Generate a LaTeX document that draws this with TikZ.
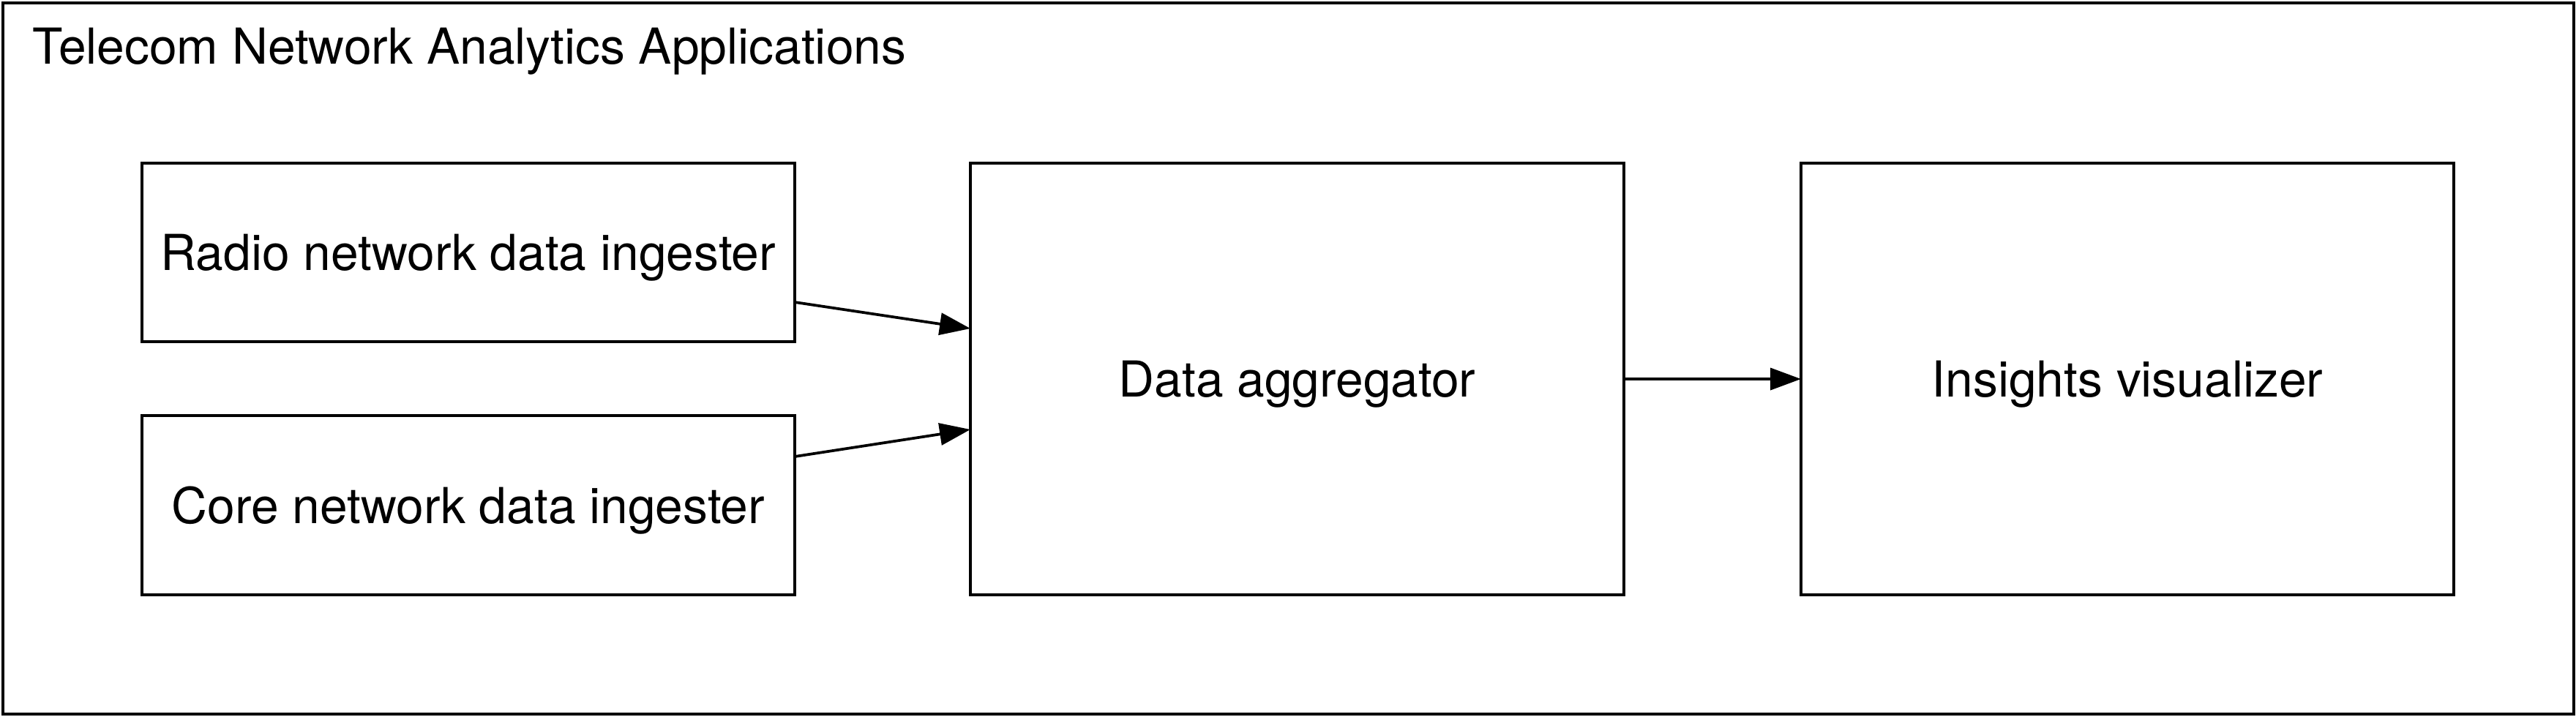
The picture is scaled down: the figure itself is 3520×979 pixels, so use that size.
\documentclass[tikz,border=0pt]{standalone}
\usepackage{fontspec}
\setmainfont{TeX Gyre Heros}
\usetikzlibrary{arrows.meta}
\begin{document}
\begin{tikzpicture}[x=0.2pt,y=-0.2pt,
  every node/.style={font=\fontsize{13.55}{16}\selectfont},
  box/.style={draw, line width=0.75pt, inner sep=0pt, outer sep=0pt,
    text height=9.9pt, text depth=0pt, minimum width=178.4pt},
  arr/.style={draw, line width=0.75pt, -{Triangle[length=8.4pt,width=6pt]}}]
\useasboundingbox (0,0) rectangle (3520,979);
\node[draw, line width=0.75pt, inner sep=0pt, outer sep=0pt,
  minimum width=702.6pt, minimum height=194.4pt] (outer) at (1760.5,490) {};
\node[anchor=base west, inner sep=0pt] (title) at (44,87) {Telecom Network Analytics Applications};
\node[box, minimum height=48.8pt] (radio) at (640,345) {Radio network data ingester};
\node[box, minimum height=49pt] (core) at (640,690.5) {Core network data ingester};
\node[box, minimum width=178.6pt, minimum height=118pt] (agg) at (1772.5,518) {Data aggregator};
\node[box, minimum height=118pt] (ins) at (2907,518) {Insights visualizer};
\draw[arr] ([yshift=-13.6pt]radio.east) -- ([yshift=13.8pt]agg.west);
\draw[arr] ([yshift=13.3pt]core.east) -- ([yshift=-13.8pt]agg.west);
\draw[arr] (agg.east) -- (ins.west);
\end{tikzpicture}
\end{document}
